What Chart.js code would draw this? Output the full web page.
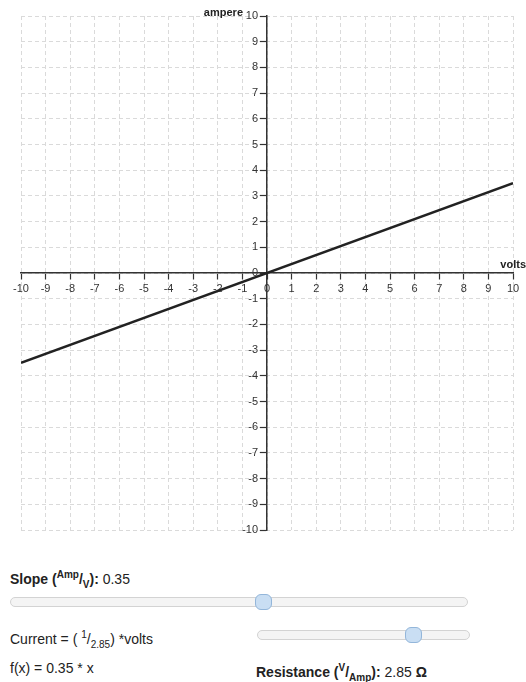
<!DOCTYPE html>
<html>
<head>
<meta charset="utf-8">
<script src="https://cdn.jsdelivr.net/npm/chart.js@4"></script>
<style>
  body { margin:0; background:#fff; font-family:"Liberation Sans", Arial, sans-serif; color:#222; }
  #wrap { position:absolute; left:0; top:0; width:526px; height:550px; }
  .txt { position:absolute; font-size:14px; line-height:16px; white-space:nowrap; }
  .txt sup, .txt sub { font-size:10px; line-height:0; }
  .track { position:absolute; height:8px; background:#f4f4f4; border:1px solid #d3d3d3; border-radius:5px; }
  .thumb { position:absolute; width:15px; height:14px; background:#c9def3; border:1px solid #93b6da; border-radius:6px; }
</style>
</head>
<body>
<div id="wrap"><canvas id="ohmChart"></canvas></div>

<div class="txt" style="left:10px; top:571px;"><b>Slope (<sup>Amp</sup>/<sub>V</sub>):</b> 0.35</div>
<div class="track" style="left:10px; top:597px; width:456px;"></div>
<div class="thumb" style="left:255px; top:594px;"></div>

<div class="txt" style="left:10px; top:631px;">Current = ( <sup>1</sup>/<sub>2.85</sub>) *volts</div>
<div class="track" style="left:257px; top:630px; width:211px;"></div>
<div class="thumb" style="left:405px; top:627px;"></div>

<div class="txt" style="left:10px; top:660px;">f(x) = 0.35 * x</div>
<div class="txt" style="left:256px; top:664px;"><b>Resistance (<sup>V</sup>/<sub>Amp</sub>):</b> 2.85 <b>Ω</b></div>

<script>
// ----- data -----
const voltValues = [-10, 10];
const ampereValues = [-3.5, 3.5];
const axisMin = -10, axisMax = 10;
const xTitle = "volts";
const yTitle = "ampere";

const points = voltValues.map((v, i) => ({x: v, y: ampereValues[i]}));

const fontFamily = '"Liberation Sans", Arial, sans-serif';
const tickFont = { family: fontFamily, size: 11 };

// y tick labels + axis names, drawn next to the centred axes
const axisNames = {
  id: 'axisNames',
  afterDraw(chart){
    const {ctx, scales:{x, y}} = chart;
    const ox = x.getPixelForValue(0), oy = y.getPixelForValue(0);
    ctx.save();
    ctx.font = '11px ' + fontFamily;
    ctx.fillStyle = '#333';
    ctx.textAlign = 'right';
    ctx.textBaseline = 'middle';
    y.ticks.forEach(t => ctx.fillText(String(t.value), ox - 9, y.getPixelForValue(t.value)));
    ctx.font = 'bold 11px ' + fontFamily;
    ctx.fillStyle = '#222';
    ctx.fillText(yTitle, ox - 24, y.getPixelForValue(axisMax) - 3);
    ctx.fillText(xTitle, chart.width, oy - 8);
    ctx.restore();
  }
};

function axisOpts(pos, showLabels){
  return {
    type: 'linear', position: pos, min: axisMin, max: axisMax,
    grid: { color:'#dadada', lineWidth:1, tickColor:'#333', tickLength:6, tickWidth:1.2, tickBorderDash:[] },
    border: { color:'#333', width:1.5, dash:[4,3] },
    ticks: { display: showLabels, stepSize:1, autoSkip:false, maxRotation:0, padding:3, color:'#333', font:tickFont }
  };
}

new Chart(document.getElementById('ohmChart'), {
  type: 'scatter',
  data: { datasets: [{ data: points, showLine: true, borderColor:'#222', borderWidth:2.5, pointRadius:0 }] },
  options: {
    responsive: true, maintainAspectRatio: false, animation: false,
    layout: { padding: { left:21, right:13, top:16, bottom:20 } },
    plugins: { legend:{display:false}, tooltip:{enabled:false} },
    scales: { x: axisOpts({y:0}, true), y: axisOpts({x:0}, false) }
  },
  plugins: [axisNames]
});
</script>
</body>
</html>
